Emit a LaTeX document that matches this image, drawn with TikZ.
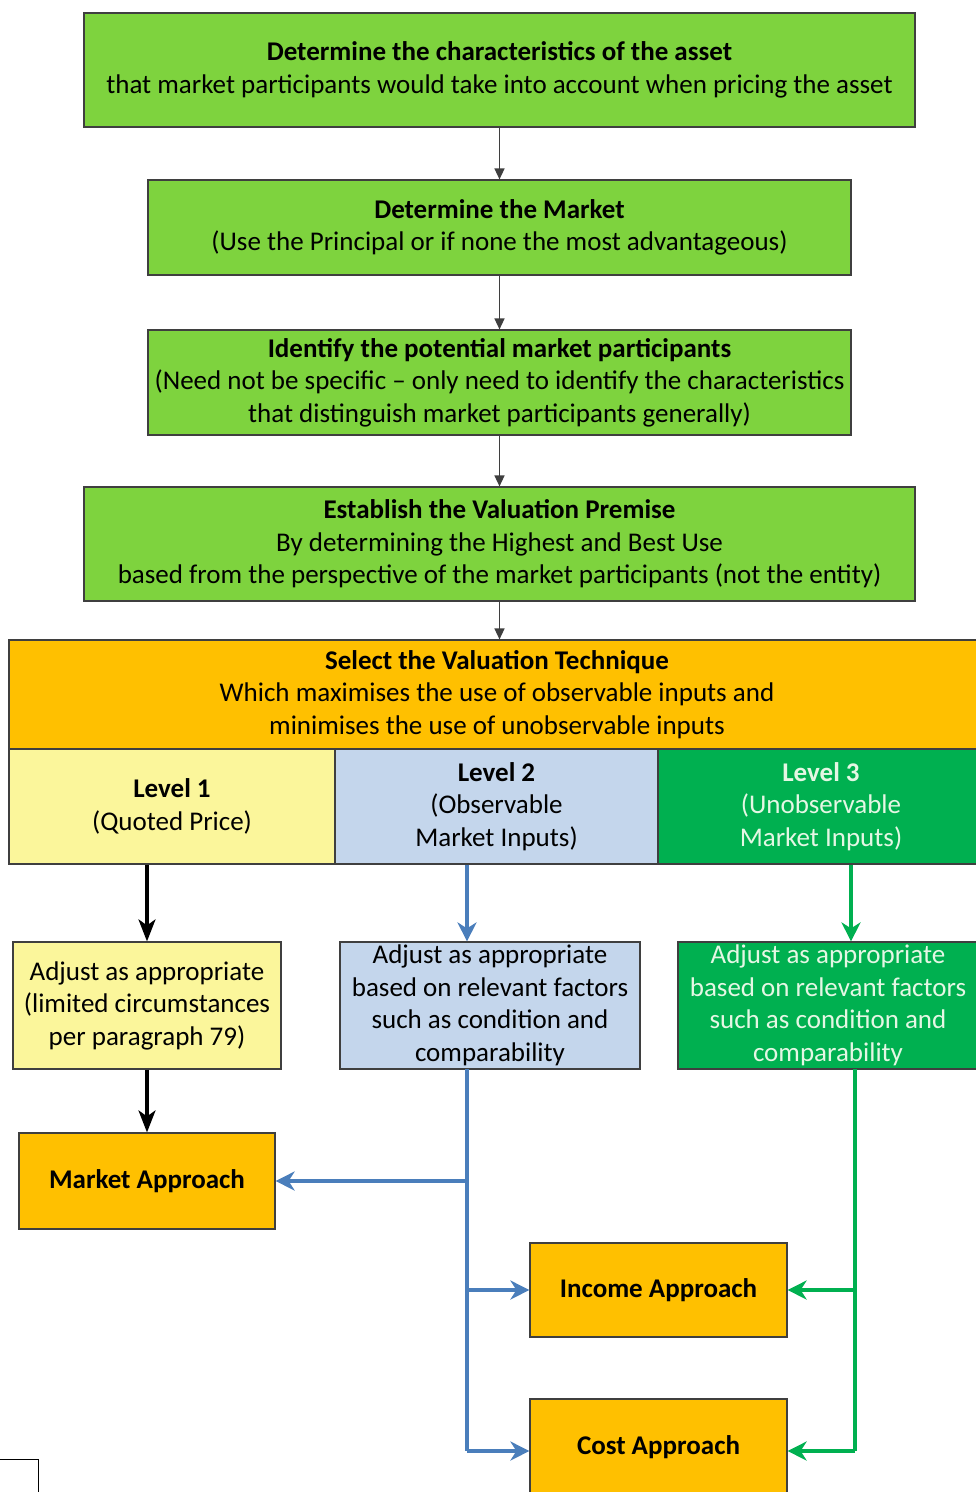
\documentclass[tikz,border=0pt]{standalone}
\usepackage{fontspec}
\setmainfont{Carlito}
\usetikzlibrary{arrows.meta}
\definecolor{stepgreen}{HTML}{7ED33E}
\definecolor{techorange}{HTML}{FFC000}
\definecolor{lvlyellow}{HTML}{FBF69B}
\definecolor{lvlblue}{HTML}{C4D6EC}
\definecolor{lvlgreen}{HTML}{00B050}
\definecolor{lvltext}{HTML}{E4F7E4}
\definecolor{flowblue}{HTML}{4A7EBB}
\definecolor{flowgreen}{HTML}{00B050}
\definecolor{edgegrey}{HTML}{3F3F3F}

\begin{document}
\begin{tikzpicture}[x=1pt,y=-1pt,
  txt/.style={font=\fontsize{27}{32.5}\selectfont},
  box/.style={draw=edgegrey, line width=1.2pt, inner sep=0pt, align=center, txt},
  stepbox/.style={box, fill=stepgreen},
  approach/.style={box, fill=techorange, font=\fontsize{27}{32.5}\selectfont\bfseries},
  toparr/.style={draw=edgegrey, line width=1.5pt, -{Triangle[length=11pt,width=10pt]}},
  blackarr/.style={draw=black, line width=3.2pt, -{Stealth[length=22pt,width=17pt,inset=6pt]}},
  bluearr/.style={draw=flowblue, line width=3.5pt, -{Stealth[length=19pt,width=19pt,inset=6pt]}},
  greenarr/.style={draw=flowgreen, line width=3.5pt, -{Stealth[length=19pt,width=19pt,inset=6pt]}},
]
\useasboundingbox (0,0) rectangle (976,1492);
\clip (0,0) rectangle (976,1492);
\fill[white] (0,0) rectangle (976,1492);

% main sequence of steps
\node[stepbox, minimum width=831, minimum height=114] (b1) at (499.5,70)
  {\textbf{Determine the characteristics of the asset}\\
   that market participants would take into account when pricing the asset};
\node[stepbox, minimum width=703, minimum height=95] (b2) at (499.5,227.5)
  {\textbf{Determine the Market}\\
   (Use the Principal or if none the most advantageous)};
\node[stepbox, minimum width=703, minimum height=105] (b3) at (499.5,382.5)
  {\textbf{Identify the potential market participants}\\
   (Need not be specific -- only need to identify the characteristics\\
   that distinguish market participants generally)};
\node[stepbox, minimum width=831, minimum height=114] (b4) at (499.5,544)
  {\textbf{Establish the Valuation Premise}\\
   By determining the Highest and Best Use\\
   based from the perspective of the market participants (not the entity)};
\node[box, fill=techorange, minimum width=980, minimum height=109] (b5) at (499,694.5) {};
\node[align=center, txt] (b5t) at (497,694.5)
  {\textbf{Select the Valuation Technique}\\
   Which maximises the use of observable inputs and\\
   minimises the use of unobservable inputs};

% input levels
\node[box, fill=lvlyellow, minimum width=326, minimum height=115] (l1) at (172,806.5)
  {\textbf{Level 1}\\(Quoted Price)};
\node[box, fill=lvlblue, minimum width=323, minimum height=115] (l2) at (496.5,806.5)
  {\textbf{Level 2}\\(Observable\\Market Inputs)};
\node[box, fill=lvlgreen, minimum width=330, minimum height=115] (l3) at (823,806.5) {};
\node[align=center, text=lvltext, txt] (l3t) at (821,806.5)
  {\textbf{Level 3}\\(Unobservable\\Market Inputs)};

% adjustments
\node[box, fill=lvlyellow, minimum width=268, minimum height=127] (a1) at (147,1005.5)
  {Adjust as appropriate\\(limited circumstances\\per paragraph 79)};
\node[box, fill=lvlblue, minimum width=300, minimum height=127] (a2) at (490,1005.5)
  {Adjust as appropriate\\based on relevant factors\\such as condition and\\comparability};
\node[box, fill=lvlgreen, minimum width=310, minimum height=127] (a3) at (833,1005.5) {};
\node[align=center, text=lvltext, txt] (a3t) at (828,1005.5)
  {Adjust as appropriate\\based on relevant factors\\such as condition and\\comparability};

% valuation approaches
\node[approach, minimum width=256, minimum height=96] (ma) at (147,1181) {Market Approach};
\node[approach, minimum width=257, minimum height=94] (ia) at (658.5,1290) {Income Approach};
\node[approach, minimum width=257, minimum height=104] (ca) at (658.5,1451) {};
\node[font=\fontsize{27}{32.5}\selectfont\bfseries] (cat) at (658.5,1447) {Cost Approach};

% arrows between the steps
\draw[toparr] (b1) -- (b2);
\draw[toparr] (b2) -- (b3);
\draw[toparr] (b3) -- (b4);
\draw[toparr] (b4.south) -- (b4.south |- b5.north);

% level 1 path
\draw[blackarr] (l1.south -| a1.north) -- (a1.north);
\draw[blackarr] (a1.south) -- (ma.north);

% level 2 path
\coordinate (bx) at (467,1069);
\draw[bluearr] (bx |- l2.south) -- (bx |- a2.north);
\draw[draw=flowblue, line width=3.5pt] (bx) -- (bx |- ca.west);
\draw[bluearr] (bx |- ma.east) -- (ma.east);
\draw[bluearr] (bx |- ia.west) -- (ia.west);
\draw[bluearr] (bx |- ca.west) -- (ca.west);

% level 3 path
\coordinate (gtop) at (851,864);
\draw[greenarr] (gtop |- l3.south) -- (gtop |- a3.north);
\coordinate (gx) at (855,1069);
\draw[draw=flowgreen, line width=3.5pt] (gx) -- (gx |- ca.east);
\draw[greenarr] (gx |- ia.east) -- (ia.east);
\draw[greenarr] (gx |- ca.east) -- (ca.east);

% edge of a neighbouring frame
\draw[black, line width=1pt] (-5,1459) -- (38,1459) -- (38,1500);
\end{tikzpicture}
\end{document}
